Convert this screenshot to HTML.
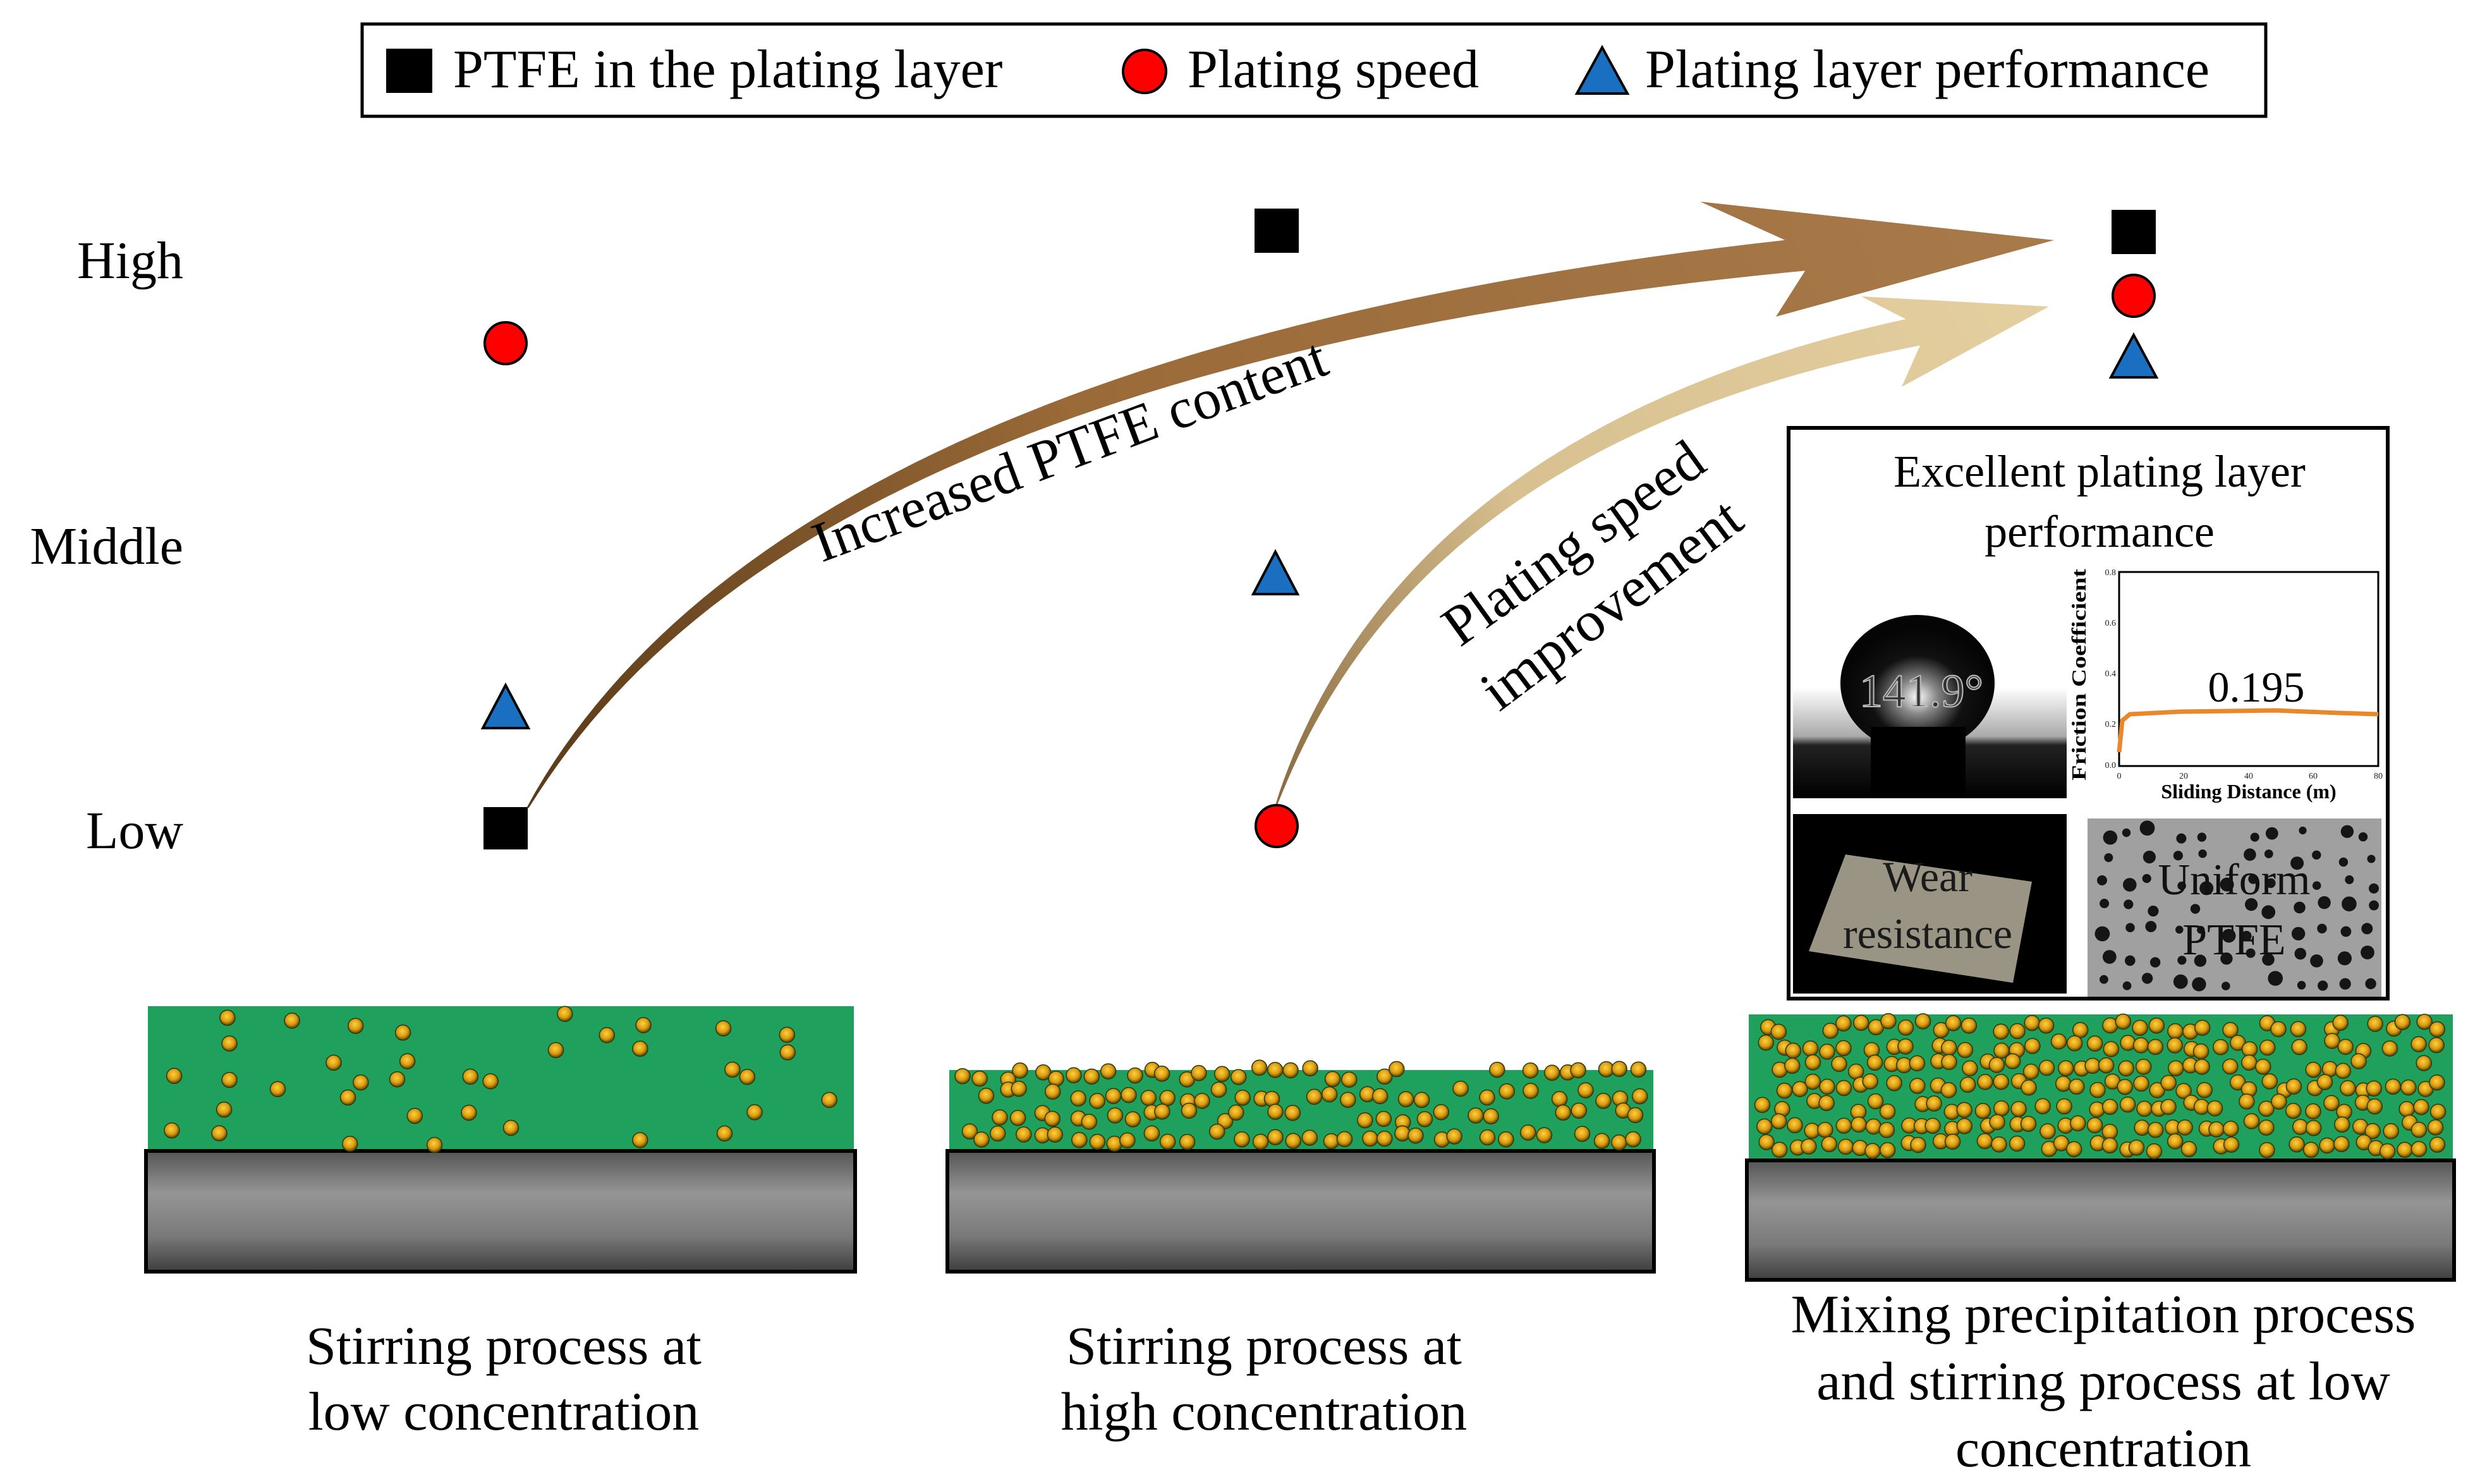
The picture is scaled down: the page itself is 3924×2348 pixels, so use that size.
<!DOCTYPE html>
<html><head><meta charset="utf-8"><style>
html,body{margin:0;padding:0;background:#fff;}
svg{display:block;}
text{font-family:"Liberation Serif",serif;}
</style></head><body>
<svg id="s" width="3924" height="2348" viewBox="0 0 3924 2348" xmlns="http://www.w3.org/2000/svg">
<defs>
<radialGradient id="pg" cx="0.45" cy="0.4" r="0.6">
<stop offset="0" stop-color="#ffd040"/><stop offset="0.6" stop-color="#d89a10"/><stop offset="1" stop-color="#5a4000"/>
</radialGradient>
<linearGradient id="gray" x1="0" y1="0" x2="0" y2="1">
<stop offset="0" stop-color="#555"/><stop offset="0.35" stop-color="#959595"/><stop offset="0.7" stop-color="#7a7a7a"/><stop offset="1" stop-color="#3e3e3e"/>
</linearGradient>
<linearGradient id="brown" gradientUnits="userSpaceOnUse" x1="835" y1="1278" x2="3250" y2="380">
<stop offset="0" stop-color="#5a3a18"/><stop offset="0.4" stop-color="#9a6a38"/><stop offset="1" stop-color="#a87a4a"/>
</linearGradient>
<linearGradient id="light" gradientUnits="userSpaceOnUse" x1="2020" y1="1272" x2="3242" y2="485">
<stop offset="0" stop-color="#8a6a40"/><stop offset="0.4" stop-color="#d8c090"/><stop offset="1" stop-color="#e4cfa0"/>
</linearGradient>
<linearGradient id="drop" x1="0" y1="0" x2="0" y2="1">
<stop offset="0" stop-color="#fff"/><stop offset="0.5" stop-color="#fff"/><stop offset="0.72" stop-color="#aaa"/><stop offset="0.76" stop-color="#222"/><stop offset="1" stop-color="#000"/>
</linearGradient>
<radialGradient id="glow" cx="0.5" cy="0.6" r="0.5">
<stop offset="0" stop-color="#fff"/><stop offset="0.25" stop-color="#888"/><stop offset="0.6" stop-color="#111"/><stop offset="1" stop-color="#050505"/>
</radialGradient>
</defs>

<rect x="573" y="38" width="3012" height="146" fill="#fff" stroke="#000" stroke-width="5"/>
<rect x="611" y="77" width="73" height="70" fill="#000"/>
<text x="717" y="138" font-size="86">PTFE in the plating layer</text>
<circle cx="1811" cy="113" r="34" fill="#f00" stroke="#000" stroke-width="4"/>
<text x="1879" y="138" font-size="86">Plating speed</text>
<polygon points="2535,75 2575,148 2495,148" fill="#1a6fc0" stroke="#000" stroke-width="4"/>
<text x="2603" y="138" font-size="86">Plating layer performance</text>

<text x="290" y="440" font-size="84" text-anchor="end">High</text>
<text x="290" y="892" font-size="84" text-anchor="end">Middle</text>
<text x="290" y="1342" font-size="84" text-anchor="end">Low</text>

<circle cx="800" cy="543" r="33" fill="#f00" stroke="#000" stroke-width="4"/>
<polygon points="800,1084 836,1152 764,1152" fill="#1a6fc0" stroke="#000" stroke-width="4"/>
<rect x="765" y="1277" width="70" height="67" fill="#000"/>
<rect x="1985" y="330" width="70" height="70" fill="#000"/>
<polygon points="2018,873 2053,940 1983,940" fill="#1a6fc0" stroke="#000" stroke-width="4"/>
<circle cx="2020" cy="1307" r="33" fill="#f00" stroke="#000" stroke-width="4"/>
<rect x="3341" y="332" width="70" height="70" fill="#000"/>
<circle cx="3376" cy="468" r="33" fill="#f00" stroke="#000" stroke-width="4"/>
<polygon points="3376,530 3412,597 3340,597" fill="#1a6fc0" stroke="#000" stroke-width="4"/>

<g id="arrows"></g>

<text font-size="90" transform="translate(1300,890) rotate(-20.4)" textLength="860" lengthAdjust="spacingAndGlyphs">Increased PTFE content</text>
<text font-size="90" transform="translate(2310,1025) rotate(-35.7)" textLength="485" lengthAdjust="spacingAndGlyphs">Plating speed</text>
<text font-size="90" transform="translate(2372,1127) rotate(-37)" textLength="490" lengthAdjust="spacingAndGlyphs">improvement</text>

<rect x="2830" y="677" width="948" height="903" fill="#fff" stroke="#000" stroke-width="6"/>
<text x="3322" y="770" font-size="72" text-anchor="middle">Excellent  plating layer</text>
<text x="3322" y="865" font-size="72" text-anchor="middle">performance</text>
<rect x="2837" y="913" width="433" height="350" fill="url(#drop)"/>
<ellipse cx="3034" cy="1081" rx="122" ry="108" fill="url(#glow)"/>
<rect x="2960" y="1150" width="150" height="113" fill="#000"/>
<text x="3040" y="1118" font-size="74" text-anchor="middle" fill="#333" stroke="#bbb" stroke-width="2">141.9°</text>
<rect x="3353" y="905" width="410" height="307" fill="#fff" stroke="#000" stroke-width="3"/>
<polyline points="3353,1190 3358,1140 3370,1130 3450,1126 3600,1124 3700,1128 3763,1130" fill="none" stroke="#e8882a" stroke-width="7"/>
<text x="3570" y="1110" font-size="68" text-anchor="middle">0.195</text>
<g font-size="14" fill="#222">
<text x="3348" y="910" text-anchor="end">0.8</text><text x="3348" y="990" text-anchor="end">0.6</text><text x="3348" y="1070" text-anchor="end">0.4</text><text x="3348" y="1150" text-anchor="end">0.2</text><text x="3348" y="1215" text-anchor="end">0.0</text>
<text x="3353" y="1232" text-anchor="middle">0</text><text x="3455" y="1232" text-anchor="middle">20</text><text x="3558" y="1232" text-anchor="middle">40</text><text x="3660" y="1232" text-anchor="middle">60</text><text x="3763" y="1232" text-anchor="middle">80</text>
</g>
<text x="3558" y="1263" font-size="32" font-weight="bold" text-anchor="middle">Sliding Distance (m)</text>
<text font-size="32" font-weight="bold" transform="translate(3300,1235) rotate(-90)" textLength="335" lengthAdjust="spacingAndGlyphs">Friction Coefficient</text>
<rect x="2837" y="1288" width="433" height="284" fill="#000"/>
<polygon points="2920,1352 3215,1395 3185,1555 2862,1505" fill="#9a9484"/>
<text x="3050" y="1410" font-size="68" text-anchor="middle" fill="#1a1a1a">Wear</text>
<text x="3050" y="1500" font-size="68" text-anchor="middle" fill="#1a1a1a">resistance</text>
<rect x="3303" y="1295" width="465" height="282" fill="#a0a0a0"/>
<g id="dots" fill="#151515"></g>
<text x="3535" y="1415" font-size="70" text-anchor="middle" fill="#111">Uniform</text>
<text x="3535" y="1510" font-size="70" text-anchor="middle" fill="#111">PTFE</text>

<rect x="234" y="1592" width="1117" height="229" fill="#1fa05c"/>
<rect x="231" y="1821" width="1122" height="191" fill="url(#gray)" stroke="#000" stroke-width="6"/>
<rect x="1502" y="1693" width="1114" height="128" fill="#1fa05c"/>
<rect x="1499" y="1821" width="1118" height="191" fill="url(#gray)" stroke="#000" stroke-width="6"/>
<rect x="2767" y="1605" width="1114" height="231" fill="#1fa05c"/>
<rect x="2764" y="1836" width="1119" height="189" fill="url(#gray)" stroke="#000" stroke-width="6"/>
<g id="parts"></g>

<g font-size="86" text-anchor="middle">
<text x="797" y="2158">Stirring process at</text>
<text x="797" y="2262">low concentration</text>
<text x="2000" y="2158">Stirring process at</text>
<text x="2000" y="2262">high concentration</text>
<text x="3328" y="2108">Mixing precipitation process</text>
<text x="3328" y="2214">and stirring process at low</text>
<text x="3328" y="2320">concentration</text>
</g>
</svg>
<script>
var NS="http://www.w3.org/2000/svg";
function el(p,t,a){var e=document.createElementNS(NS,t);for(var k in a)e.setAttribute(k,a[k]);p.appendChild(e);return e;}
var seed=7;function rnd(){seed=(seed*16807)%2147483647;return seed/2147483647;}
function shaft(p0,c,p1,w0,w1,fill,head){
 var L=[],R=[],N=60;
 for(var i=0;i<=N;i++){var t=i/N;
  var x=(1-t)*(1-t)*p0[0]+2*(1-t)*t*c[0]+t*t*p1[0];
  var y=(1-t)*(1-t)*p0[1]+2*(1-t)*t*c[1]+t*t*p1[1];
  var dx=2*(1-t)*(c[0]-p0[0])+2*t*(p1[0]-c[0]);
  var dy=2*(1-t)*(c[1]-p0[1])+2*t*(p1[1]-c[1]);
  var l=Math.hypot(dx,dy);var nx=-dy/l,ny=dx/l;var w=(w0+(w1-w0)*Math.pow(t,0.8))/2;
  L.push([x+nx*w,y+ny*w]);R.push([x-nx*w,y-ny*w]);}
 var pts=L.concat(R.reverse()).map(function(q){return q[0].toFixed(1)+","+q[1].toFixed(1)}).join(" ");
 var g=document.getElementById("arrows");
 el(g,"polygon",{points:pts,fill:fill});
 el(g,"polygon",{points:head,fill:fill});
}
shaft([835,1278],[1250,560],[2880,400],3,52,"url(#brown)","2690,319 3250,380 2810,501 2873,402");
shaft([2020,1272],[2230,680],[3055,520],3,46,"url(#light)","2945,469 3242,485 3009,612 3049,522");
var P=document.getElementById("parts");
function fill(x0,y0,w,h,cols,rows,jit,skip){
 for(var r=0;r<rows;r++)for(var c=0;c<cols;c++){
  if(rnd()<skip)continue;
  var cw=w/cols,ch=h/rows;
  var x=x0+cw*(c+0.5)+(rnd()-0.5)*cw*jit;
  var y=y0+ch*(r+0.5)+(rnd()-0.5)*ch*jit;
  el(P,"circle",{cx:x.toFixed(1),cy:y.toFixed(1),r:12,fill:"url(#pg)",stroke:"#2a3a10","stroke-width":1.5});
 }}
fill(250,1600,1090,215,13,5,0.9,0.4);
fill(1515,1682,1090,135,38,4,0.6,0.15);
fill(2780,1608,1090,222,44,7,0.55,0.12);
var D=document.getElementById("dots");
for(var r=0;r<7;r++)for(var c=0;c<12;c++){
 if(rnd()<0.15)continue;
 el(D,"circle",{cx:(3320+c*38+rnd()*20).toFixed(1),cy:(1310+r*39+rnd()*18).toFixed(1),r:(6+rnd()*6).toFixed(1)});}
</script>
</body></html>
